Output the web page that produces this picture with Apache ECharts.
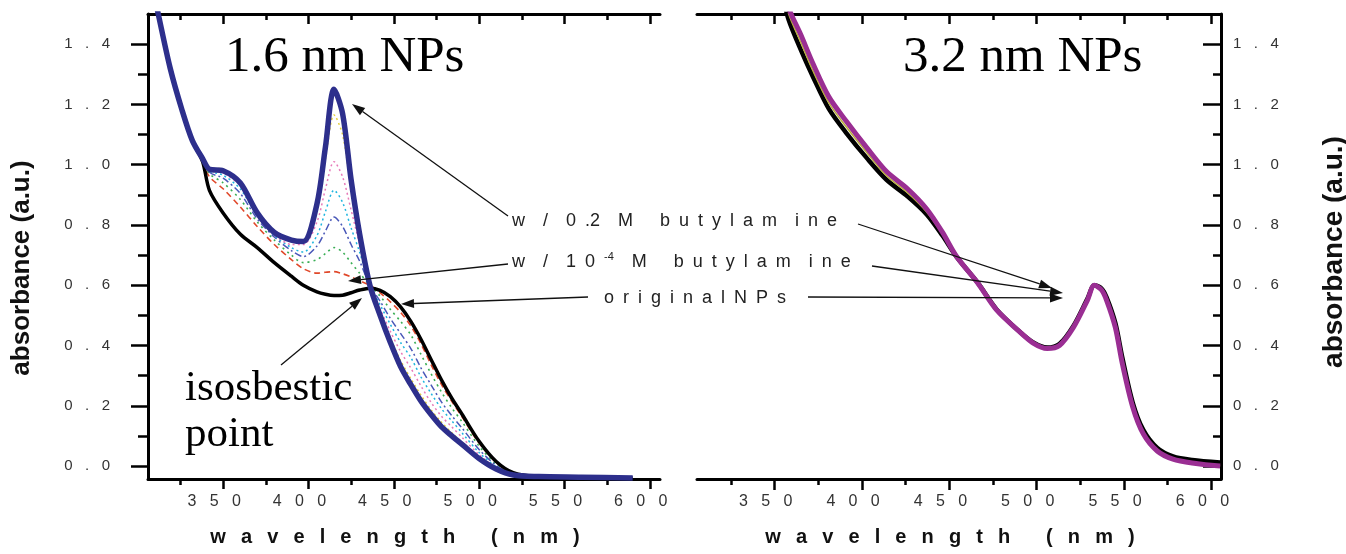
<!DOCTYPE html>
<html>
<head>
<meta charset="utf-8">
<title>absorbance spectra</title>
<script src="https://cdn.jsdelivr.net/npm/echarts@6/dist/echarts.min.js"></script>
<style>
  html, body { margin: 0; padding: 0; background: #fff; }
  #chart { width: 1346px; height: 554px; }
</style>
</head>
<body>
<div id="chart"></div>
<script>
// ---- data ----
// 1.6 nm panel: outer curves
const lam16 = [309, 312, 319, 326, 332, 338, 342, 350, 360, 370, 380, 390, 397, 405, 410, 415, 420, 425, 430, 436, 442, 448, 454, 460, 466, 472, 478, 484, 490, 500, 510, 520, 535, 560, 590];
const butyl02 = [1.58, 1.50, 1.32, 1.18, 1.08, 1.02, 0.985, 0.98, 0.94, 0.84, 0.775, 0.75, 0.745, 0.87, 1.06, 1.25, 1.17, 0.95, 0.77, 0.60, 0.50, 0.41, 0.33, 0.27, 0.215, 0.17, 0.13, 0.10, 0.072, 0.025, -0.01, -0.03, -0.035, -0.037, -0.04];
const orig16 = [1.58, 1.50, 1.32, 1.18, 1.08, 1.01, 0.915, 0.84, 0.77, 0.725, 0.675, 0.63, 0.60, 0.578, 0.57, 0.566, 0.567, 0.575, 0.584, 0.59, 0.583, 0.562, 0.528, 0.48, 0.42, 0.352, 0.285, 0.225, 0.172, 0.082, 0.015, -0.022, -0.035, -0.037, -0.04];
// 1.6 nm panel: intermediate additions
const lamMid = [338, 342, 350, 360, 370, 380, 390, 397, 405, 410, 415, 420, 425, 430, 436, 442, 448, 454, 460, 466, 472, 478, 484, 490, 500, 510, 520, 535];
const midRed    = [1.01, 0.96, 0.92, 0.86, 0.795, 0.735, 0.685, 0.655, 0.64, 0.643, 0.645, 0.638, 0.628, 0.615, 0.60, 0.575, 0.545, 0.51, 0.465, 0.405, 0.335, 0.27, 0.215, 0.163, 0.076, 0.012, -0.025, -0.035];
const midGreen  = [1.015, 0.97, 0.94, 0.885, 0.81, 0.75, 0.70, 0.675, 0.685, 0.705, 0.725, 0.71, 0.675, 0.64, 0.60, 0.564, 0.52, 0.48, 0.435, 0.37, 0.305, 0.245, 0.193, 0.147, 0.066, 0.007, -0.026, -0.035];
const midNavy   = [1.02, 0.975, 0.955, 0.905, 0.82, 0.76, 0.715, 0.695, 0.73, 0.78, 0.826, 0.795, 0.735, 0.68, 0.60, 0.547, 0.49, 0.44, 0.39, 0.325, 0.268, 0.212, 0.167, 0.126, 0.055, 0.002, -0.027, -0.035];
const midCyan   = [1.02, 0.98, 0.965, 0.92, 0.83, 0.765, 0.725, 0.71, 0.765, 0.845, 0.915, 0.875, 0.79, 0.71, 0.60, 0.535, 0.47, 0.41, 0.36, 0.295, 0.24, 0.19, 0.15, 0.11, 0.045, -0.002, -0.028, -0.035];
const midPink   = [1.02, 0.982, 0.972, 0.93, 0.835, 0.77, 0.735, 0.735, 0.81, 0.92, 1.01, 0.96, 0.85, 0.735, 0.60, 0.521, 0.447, 0.38, 0.325, 0.265, 0.21, 0.165, 0.13, 0.095, 0.038, -0.005, -0.029, -0.035];
const midYellow = [1.02, 0.99, 0.985, 0.94, 0.84, 0.775, 0.75, 0.745, 0.86, 1.02, 1.165, 1.10, 0.92, 0.76, 0.60, 0.508, 0.425, 0.35, 0.29, 0.235, 0.185, 0.145, 0.11, 0.08, 0.03, -0.008, -0.03, -0.035];
// 3.2 nm panel
const lam32 = [355, 358, 365, 372, 381, 391, 403, 414, 426, 437, 446, 454, 466, 477, 489, 498, 506, 513, 521, 529, 533, 537, 540, 545, 549, 555, 561, 569, 578, 589, 605];
const butyl32 = [1.60, 1.52, 1.43, 1.334, 1.225, 1.144, 1.054, 0.977, 0.92, 0.853, 0.776, 0.696, 0.609, 0.518, 0.452, 0.408, 0.39, 0.40, 0.46, 0.55, 0.60, 0.585, 0.55, 0.46, 0.34, 0.195, 0.107, 0.05, 0.023, 0.01, 0.0];
const mid32   = [1.58, 1.50, 1.405, 1.31, 1.205, 1.125, 1.038, 0.963, 0.907, 0.843, 0.77, 0.696, 0.609, 0.518, 0.452, 0.408, 0.39, 0.40, 0.46, 0.55, 0.60, 0.585, 0.55, 0.46, 0.34, 0.195, 0.107, 0.05, 0.023, 0.01, 0.0];
const orig32  = [1.55, 1.48, 1.38, 1.29, 1.185, 1.105, 1.02, 0.95, 0.895, 0.835, 0.765, 0.695, 0.61, 0.52, 0.452, 0.41, 0.393, 0.405, 0.465, 0.555, 0.60, 0.59, 0.56, 0.475, 0.36, 0.21, 0.12, 0.06, 0.032, 0.02, 0.012];
// ticks
const majorX = [350, 400, 450, 500, 550, 600];
const minorX = [325, 375, 425, 475, 525, 575];
const majorY = [0, 0.2, 0.4, 0.6, 0.8, 1.0, 1.2, 1.4];
const minorY = [0.1, 0.3, 0.5, 0.7, 0.9, 1.1, 1.3];

const E = '\u2002';
const spread = (s, g) => s.split('').join(g);
const pairs = (xs, ys) => xs.map((x, i) => [x, ys[i]]);

const chart = echarts.init(document.getElementById('chart'), null, { renderer: 'canvas' });

const SANS = 'Liberation Sans, Arial, sans-serif';
const SERIF = 'Liberation Serif, Times New Roman, serif';
const labelFont = { color: '#333', fontFamily: SANS };
const G = '  \u2009';
const xName = spread('wavelength', G) + G + G + ' ' + spread('(nm)', G);

function xAx(grid, min, max, pos, ticks, len, inside, withLabel, withLine) {
  return {
    type: 'value', gridIndex: grid, position: pos, min: min, max: max,
    name: withLabel ? xName : '',
    nameLocation: 'middle', nameGap: 48,
    nameTextStyle: { color: '#111', fontSize: 20, fontWeight: 'bold', fontFamily: SANS, padding: [0, 18, 0, 0] },
    axisLine: { show: withLine, onZero: false, lineStyle: { color: '#000', width: 3 } },
    axisTick: { show: true, inside: inside, length: len, customValues: ticks, lineStyle: { color: '#000', width: 2.5 } },
    axisLabel: withLabel ? Object.assign({
      customValues: majorX, fontSize: 16, margin: 15, padding: [0, 18, 0, 0],
      formatter: v => spread(String(v), '   ')
    }, labelFont) : { show: false },
    splitLine: { show: false }
  };
}

function yAx(grid, pos, ticks, len, inside, withLabel, withLine, margin) {
  return {
    type: 'value', gridIndex: grid, position: pos, min: -0.043, max: 1.5,
    axisLine: { show: withLine, onZero: false, lineStyle: { color: '#000', width: 3 } },
    axisTick: { show: true, inside: inside, length: len, customValues: ticks, lineStyle: { color: '#000', width: 2.5 } },
    axisLabel: withLabel ? Object.assign({
      customValues: majorY, fontSize: 15, margin: margin,
      formatter: v => spread(v.toFixed(1), '   ')
    }, labelFont) : { show: false },
    splitLine: { show: false }
  };
}

function line(name, xi, yi, xs, ys, color, width, type, z) {
  return {
    name: name, type: 'line', xAxisIndex: xi, yAxisIndex: yi,
    data: pairs(xs, ys), smooth: 0.3, symbol: 'none', clip: true,
    lineStyle: { color: color, width: width, type: type || 'solid' },
    z: z, silent: true
  };
}

function arrow(x1, y1, x2, y2) {
  const a = Math.atan2(y2 - y1, x2 - x1), L = 13, W = 4.5;
  const bx = x2 - L * Math.cos(a), by = y2 - L * Math.sin(a);
  const px = -Math.sin(a) * W, py = Math.cos(a) * W;
  return [
    { type: 'line', shape: { x1: x1, y1: y1, x2: bx, y2: by }, style: { stroke: '#111', lineWidth: 1.3 }, z: 100 },
    { type: 'polygon', shape: { points: [[x2, y2], [bx + px, by + py], [bx - px, by - py]] }, style: { fill: '#111' }, z: 100 }
  ];
}

// annotation arrows: [tailX, tailY, tipX, tipY]
const arrows = [
  [508, 216, 352, 104],
  [858, 224, 1052, 288],
  [508, 264, 348, 281],
  [872, 266, 1063, 293],
  [588, 297, 401, 304],
  [808, 297, 1063, 298],
  [281, 365, 362, 298]
];

const annFont = { fontSize: 18, fontFamily: SANS, fill: '#222' };
const row1 = 'w' + E + E + '/' + E + E + '0' + E + '.2' + E + E + 'M' + E + E + E + spread('butylam', E) + E + E + spread('ine', E);
const row2a = 'w' + E + E + '/' + E + E + '1' + E + '0' + E;
const row2b = E + E + 'M' + E + E + E + spread('butylam', E) + E + E + spread('ine', E);
const row3 = spread('originalNPs', E);

const graphics = [];
arrows.forEach(a => graphics.push(...arrow(a[0], a[1], a[2], a[3])));
graphics.push(
  { type: 'text', x: 225, y: 58, style: { text: '1.6 nm NPs', fontSize: 51, fontFamily: SERIF, fill: '#000', verticalAlign: 'middle' } },
  { type: 'text', x: 903, y: 58, style: { text: '3.2 nm NPs', fontSize: 51, fontFamily: SERIF, fill: '#000', verticalAlign: 'middle' } },
  { type: 'text', x: 185, y: 389, style: { text: 'isosbestic', fontSize: 43, fontFamily: SERIF, fill: '#000', verticalAlign: 'middle' } },
  { type: 'text', x: 185, y: 435, style: { text: 'point', fontSize: 43, fontFamily: SERIF, fill: '#000', verticalAlign: 'middle' } },
  { type: 'text', x: 512, y: 221, style: Object.assign({ text: row1, verticalAlign: 'middle' }, annFont) },
  { type: 'text', x: 512, y: 262, style: Object.assign({
      text: '{n|' + row2a + '}{s|-4}{n|' + row2b + '}', verticalAlign: 'middle',
      rich: { n: { fontSize: 18, lineHeight: 22, fontFamily: SANS, fill: '#222' },
              s: { fontSize: 11, lineHeight: 22, verticalAlign: 'top', fontFamily: SANS, fill: '#222' } }
    }, annFont) },
  { type: 'text', x: 604, y: 298, style: Object.assign({ text: row3, verticalAlign: 'middle' }, annFont) },
  { type: 'text', x: 22, y: 268, rotation: Math.PI / 2, style: { text: 'absorbance (a.u.)', fontSize: 26, fontWeight: 'bold', fontFamily: SANS, fill: '#111', align: 'center', verticalAlign: 'middle' } },
  { type: 'text', x: 1334, y: 252, rotation: Math.PI / 2, style: { text: 'absorbance (a.u.)', fontSize: 28, fontWeight: 'bold', fontFamily: SANS, fill: '#111', align: 'center', verticalAlign: 'middle' } }
);

const option = {
  animation: false,
  backgroundColor: '#fff',
  grid: [
    { left: 148, top: 14, width: 512, height: 465, outerBoundsMode: 'none', containLabel: false },
    { left: 697, top: 14, width: 524, height: 465, outerBoundsMode: 'none', containLabel: false }
  ],
  xAxis: [
    xAx(0, 306, 606, 'bottom', majorX, 10, false, true, true),
    xAx(0, 306, 606, 'bottom', minorX, 6, false, false, false),
    xAx(0, 306, 606, 'top', majorX, 10, true, false, true),
    xAx(0, 306, 606, 'top', minorX, 6, true, false, false),
    xAx(1, 305.5, 605.5, 'bottom', majorX, 11, false, true, true),
    xAx(1, 305.5, 605.5, 'bottom', minorX, 6, false, false, false),
    xAx(1, 305.5, 605.5, 'top', majorX, 10, true, false, true),
    xAx(1, 305.5, 605.5, 'top', minorX, 6, true, false, false)
  ],
  yAxis: [
    yAx(0, 'left', majorY, 17, false, true, true, 38),
    yAx(0, 'left', minorY, 10, false, false, false, 0),
    yAx(1, 'right', majorY, 18, true, true, true, 12),
    yAx(1, 'right', minorY, 8, true, false, false, 0)
  ],
  series: [
    line('10-4 M step 1', 0, 0, lamMid, midRed, '#e0482a', 1.6, [6, 4], 2),
    line('step 2', 0, 0, lamMid, midGreen, '#3aae55', 1.6, [2, 4], 2),
    line('step 3', 0, 0, lamMid, midNavy, '#4a58b8', 1.5, [7, 3, 2, 3], 2),
    line('step 4', 0, 0, lamMid, midCyan, '#1fb5df', 1.5, [2, 3], 2),
    line('step 5', 0, 0, lamMid, midPink, '#e77ab9', 1.5, [2, 3], 2),
    line('step 6', 0, 0, lamMid, midYellow, '#e5cf3c', 1.5, [2, 3], 2),
    line('original NPs', 0, 0, lam16, orig16, '#000', 3.5, 'solid', 3),
    line('w/ 0.2 M butylamine', 0, 0, lam16, butyl02, '#2d2f8c', 5.5, 'solid', 4),
    line('original 3.2', 4, 2, lam32, orig32, '#000', 4.5, 'solid', 3),
    line('mid 3.2', 4, 2, lam32, mid32, '#b9b23a', 1.5, 'solid', 3),
    line('butylamine 3.2', 4, 2, lam32, butyl32, '#9a2e93', 5, 'solid', 4)
  ],
  graphic: graphics
};

chart.setOption(option);
</script>
</body>
</html>
